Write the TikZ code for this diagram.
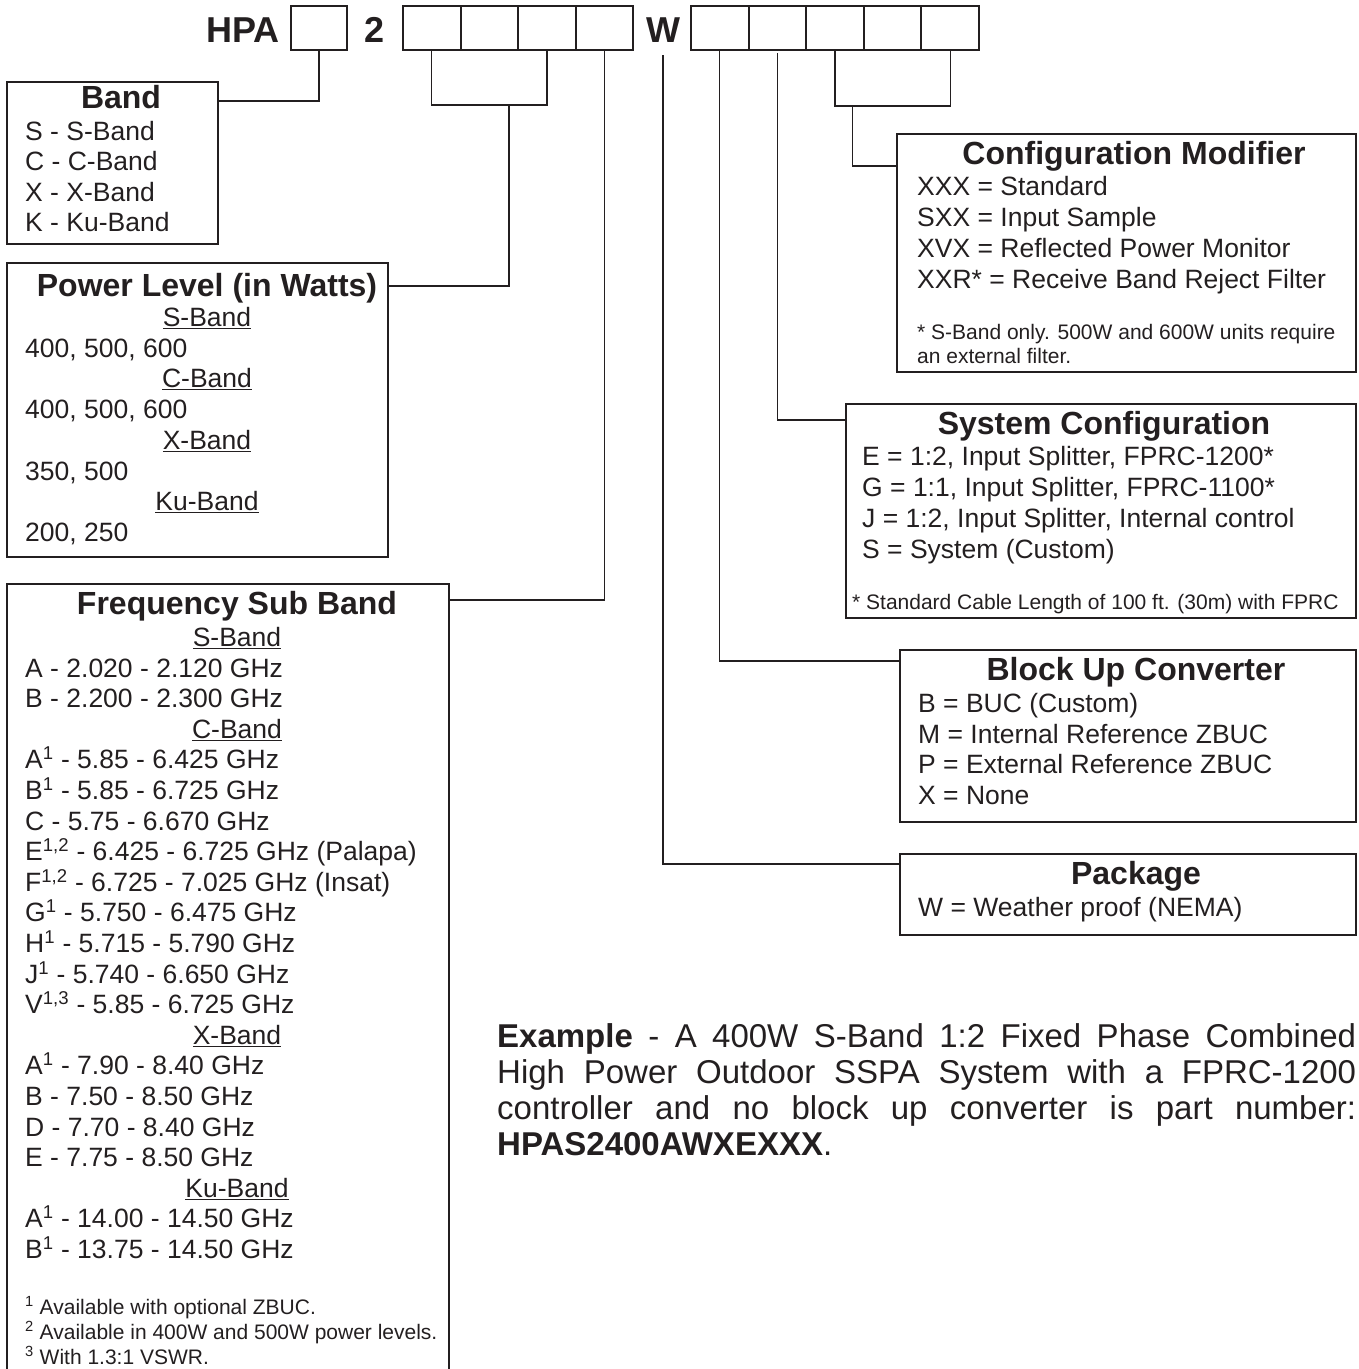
\documentclass[tikz,border=0pt]{standalone}
\usepackage{fontspec}
\setmainfont{Liberation Sans}
\usetikzlibrary{calc}

\definecolor{ink}{RGB}{35,31,32}

\tikzset{
    box/.style={draw=ink, line width=1.5pt, anchor=north west, inner sep=0, outer sep=0},
    digit/.style={draw=ink, line width=2pt, anchor=north west, inner sep=0, outer sep=0,
        minimum width=57.6, minimum height=44},
    code/.style={text=ink, anchor=base, inner sep=0, font=\fontsize{36}{40}\selectfont\bfseries},
    title/.style={text=ink, anchor=base, inner sep=0, font=\fontsize{32}{36}\selectfont\bfseries},
    txt/.style={text=ink, anchor=base west, inner sep=0, font=\fontsize{26.5}{30.7}\selectfont},
    sub/.style={text=ink, anchor=base, inner sep=0, font=\fontsize{26.5}{30.7}\selectfont},
    note/.style={text=ink, anchor=base west, inner sep=0, font=\fontsize{21}{25}\selectfont},
    para/.style={text=ink, anchor=north west, inner sep=0, text width=859, align=justify,
        font=\fontsize{33}{36}\selectfont},
    link/.style={draw=ink, line width=1.3pt}
    }

\begin{document}
\begin{tikzpicture}[x=1pt, y=-1pt]
    \useasboundingbox (0,0) rectangle (1359,1369);

    % part number row
    \node[code] (hpa) at (243,42) {HPA};
    \node[digit, minimum width=56] (p1) at (291,6) {};
    \node[code] (two) at (375,42) {2};
    \foreach \i in {1,...,4}
        \node[digit] (g2-\i) at ({403+57.6*(\i-1)},6) {};
    \node[code] (wlab) at (663,42) {W};
    \foreach \i in {1,...,5}
        \node[digit] (g3-\i) at ({691+57.6*(\i-1)},6) {};
    \coordinate (w-foot) at (663,55);

    % Band
    \node[box, minimum width=211, minimum height=162] (band) at (7,82) {};
    \node[title] (band-t) at (121,108) {Band};
    \foreach \t [count=\i from 0] in {S - S-Band, C - C-Band, X - X-Band, K - Ku-Band}
        \node[txt] (band-\i) at (25,{140+30.6*\i}) {\t};

    % Power level
    \node[box, minimum width=381, minimum height=294] (power) at (7,263) {};
    \node[title] (power-t) at (207,296) {Power Level (in Watts)};
    \foreach \hd/\vals [count=\i from 0] in {S-Band/{400, 500, 600}, C-Band/{400, 500, 600},
            X-Band/{350, 500}, Ku-Band/{200, 250}} {
        \node[sub] (power-h\i) at (207,{326.5+61.4*\i}) {\underline{\hd}};
        \node[txt] (power-v\i) at (25,{357.2+61.4*\i}) {\vals};
    }

    % Frequency sub band
    \node[box, minimum width=442, minimum height=800] (freq) at (7,584) {};
    \node[title] (freq-t) at (237,614) {Frequency Sub Band};
    \foreach \r/\hd in {0/S-Band, 3/C-Band, 13/X-Band, 18/Ku-Band}
        \node[sub] (freq-h\r) at (237,{646.5+30.6*\r}) {\underline{\hd}};
    \foreach \r/\t in {1/{A - 2.020 - 2.120 GHz}, 2/{B - 2.200 - 2.300 GHz},
            4/{A\textsuperscript{1} - 5.85 - 6.425 GHz}, 5/{B\textsuperscript{1} - 5.85 - 6.725 GHz},
            6/{C - 5.75 - 6.670 GHz}, 7/{E\textsuperscript{1,2} - 6.425 - 6.725 GHz (Palapa)},
            8/{F\textsuperscript{1,2} - 6.725 - 7.025 GHz (Insat)}, 9/{G\textsuperscript{1} - 5.750 - 6.475 GHz},
            10/{H\textsuperscript{1} - 5.715 - 5.790 GHz}, 11/{J\textsuperscript{1} - 5.740 - 6.650 GHz},
            12/{V\textsuperscript{1,3} - 5.85 - 6.725 GHz},
            14/{A\textsuperscript{1} - 7.90 - 8.40 GHz}, 15/{B - 7.50 - 8.50 GHz},
            16/{D - 7.70 - 8.40 GHz}, 17/{E - 7.75 - 8.50 GHz},
            19/{A\textsuperscript{1} - 14.00 - 14.50 GHz}, 20/{B\textsuperscript{1} - 13.75 - 14.50 GHz}}
        \node[txt] (freq-\r) at (25,{646.5+30.6*\r}) {\t};
    \node[note] (freq-n1) at (25,1314) {\textsuperscript{1} Available with optional ZBUC.};
    \node[note] (freq-n2) at (25,1339) {\textsuperscript{2} Available in 400W and 500W power levels.};
    \node[note] (freq-n3) at (25,1364) {\textsuperscript{3} With 1.3:1 VSWR.};

    % Configuration modifier
    \node[box, minimum width=459, minimum height=238] (cfg) at (897,134) {};
    \node[title] (cfg-t) at (1134,164) {Configuration Modifier};
    \foreach \t [count=\i from 0] in {XXX = Standard, SXX = Input Sample,
            XVX = Reflected Power Monitor, XXR* = Receive Band Reject Filter}
        \node[txt] (cfg-\i) at (917,{195.5+31*\i}) {\t};
    \node[note] (cfg-n1) at (917,339) {* S-Band only. 500W and 600W units require};
    \node[note] (cfg-n2) at (917,363) {an external filter.};

    % System configuration
    \node[box, minimum width=510, minimum height=214] (sys) at (846,404) {};
    \node[title] (sys-t) at (1104,434) {System Configuration};
    \foreach \t [count=\i from 0] in {{E = 1:2, Input Splitter, FPRC-1200*},
            {G = 1:1, Input Splitter, FPRC-1100*}, {J = 1:2, Input Splitter, Internal control},
            S = System (Custom)}
        \node[txt] (sys-\i) at (862,{465.5+31*\i}) {\t};
    \node[note] (sys-n) at (852,609) {* Standard Cable Length of 100 ft. (30m) with FPRC};

    % Block up converter
    \node[box, minimum width=456, minimum height=172] (buc) at (900,650) {};
    \node[title] (buc-t) at (1136,680) {Block Up Converter};
    \foreach \t [count=\i from 0] in {B = BUC (Custom), M = Internal Reference ZBUC,
            P = External Reference ZBUC, X = None}
        \node[txt] (buc-\i) at (918,{712.5+30.7*\i}) {\t};

    % Package
    \node[box, minimum width=456, minimum height=81] (pack) at (900,854) {};
    \node[title] (pack-t) at (1136,884) {Package};
    \node[txt] (pack-0) at (918,916.5) {W = Weather proof (NEMA)};

    % example
    \node[para] (example) at (497,1023) {\hyphenpenalty=10000
        \textbf{Example} - A 400W S-Band 1:2 Fixed Phase Combined\linebreak
        High Power Outdoor SSPA System with a FPRC-1200\linebreak
        controller and no block up converter is part number:\linebreak
        \textbf{HPAS2400AWXEXXX}.};

    % connectors
    \draw[link] (p1.south) |- ([yshift=-19pt]band.north east);
    \draw[link] (g2-1.south) -- ++(0,55) -| (g2-3.south);
    \coordinate (pwr-top) at ($(g2-1.south)!0.67!(g2-3.south)+(0,55)$);
    \draw[link] (pwr-top) |- ([yshift=-23pt]power.north east);
    \draw[link] (g2-4.south) |- ([yshift=-16pt]freq.north east);
    \draw[link] (w-foot) |- ([yshift=-10pt]pack.north west);
    \draw[link] (g3-1.south) |- ([yshift=-11pt]buc.north west);
    \draw[link] ([yshift=-3pt]g3-2.south) |- ([yshift=-16pt]sys.north west);
    \draw[link] (g3-3.south) -- ++(0,56) -| (g3-5.south);
    \coordinate (cfg-top) at ($(g3-3.south)!0.15!(g3-5.south)+(0,56)$);
    \draw[link] (cfg-top) |- ([yshift=-32pt]cfg.north west);
\end{tikzpicture}
\end{document}
